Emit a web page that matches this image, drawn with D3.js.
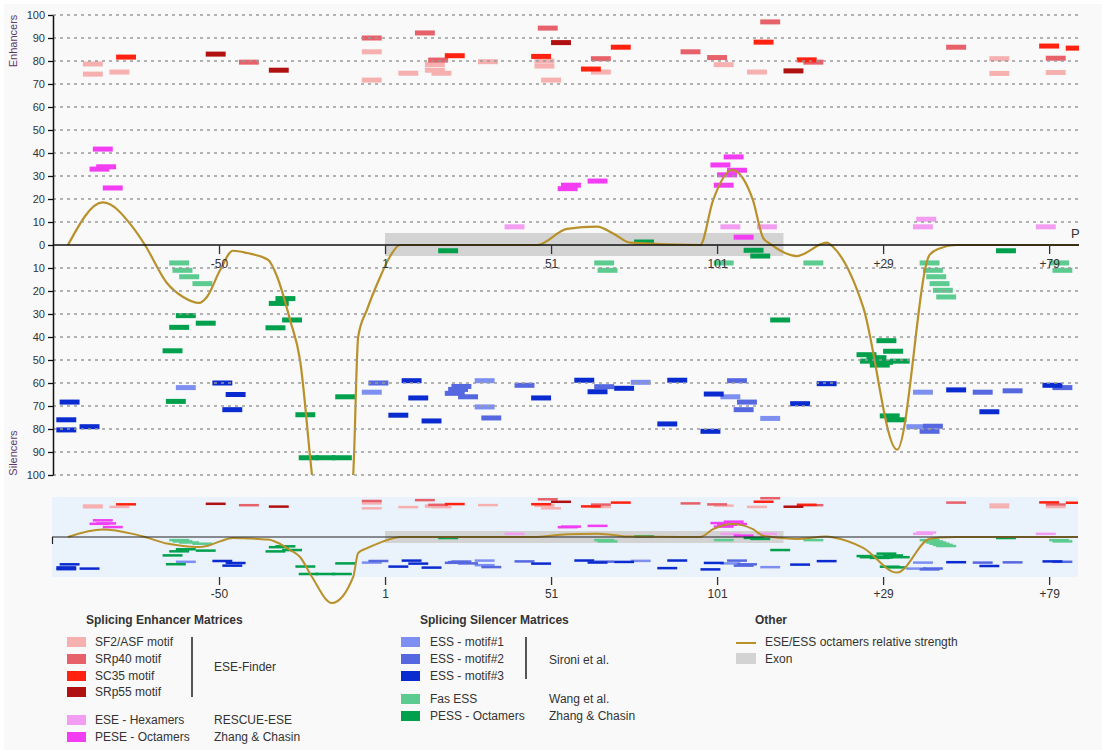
<!DOCTYPE html>
<html>
<head>
<meta charset="utf-8">
<script src="https://cdnjs.cloudflare.com/ajax/libs/d3/7.8.5/d3.min.js"></script>
<style>
body { margin: 0; background: #fff; }
text { font-family: "Liberation Sans", Arial, sans-serif; }
</style>
</head>
<body>
<svg id="chart" width="1102" height="750"></svg>
<script>
// sequence index: -99..0 = intron -100..-1, 1..122 = exon, 123.. = intron +1..
// each motif hit: [start index, score]
var sf2 = [[-90,78.7],[-90,74.3],[-82,75.2],[-6,84],[-6,71.7],[5,74.7],[13,78.5],[13,76],[15,74.7],[29,79.7],
  [46,80],[46,77.8],[48,71.7],[63,75.2],[100,78.4],[110,75.2],[183,81],[183,74.6],[200,75]];
var srp40 = [[-43,79.5],[-6,90],[10,92.2],[14,80.4],[47,94.3],[63,81],[90,84],[98,81.5],[114,97],[127,79.5],[170,86],[200,81.2]];
var sc35 = [[-80,81.7],[19,82.3],[45,82],[60,76.5],[69,86],[112,88.2],[125,80.5],[198,86.5],[206,85.6]];
var srp55 = [[-53,83],[-34,76],[51,88],[121,75.7]];
var eseHex = [[37,7.9],[102,7.9],[113,7.9],[160,7.9],[161,11.2],[197,7.9]];
var peseOct = [[-87,41.7],[-88,33],[-86,34],[-84,24.8],[53,24.5],[54,26],[62,27.8],[103,38.3],[99,34.8],[104,32.5],
  [101,30.5],[100,26],[106,3.4]];

var ess1 = [[-62,62],[-6,64],[28,59],[28,70.4],[75,59.7],[102,66],[114,75.4],[160,64],[158,79]];
var ess2 = [[-4,60],[20,62.8],[21,61.5],[19,64.5],[23,66],[30,75.2],[40,61],[64,61.6],[104,59],[107,68.3],[106,71.6],
  [178,64],[187,63.4],[202,62],[163,78.8],[162,81]];
var ess3 = [[-98,80.4],[-98,76],[-97,68.3],[-91,79],[-51,60],[-47,65],[-48,71.6],[6,59],[8,66.5],[2,74],[12,76.5],
  [45,66.5],[58,58.8],[62,63.8],[70,62.3],[86,58.8],[83,77.8],[97,64.8],[96,81],[123,69],[131,60.3],[170,63],[180,72.5],[199,61]];
var fasEss = [[-64,7.8],[-63,11],[-61,13.8],[-57,16.8],[64,7.8],[65,11],[100,7.8],[127,7.8],[162,7.8],[163,11],
  [164,13.8],[165,16.8],[166,19.7],[167,22.6],[201,7.8],[202,11]];
var pessOct = [[-62,30.7],[-64,35.8],[-56,34],[-66,46],[-65,68],[-32,23.3],[-34,25.4],[-30,32.6],[-35,36],[-26,73.8],
  [-25,92.5],[-20,92.5],[-15,92.5],[-14,66],[17,2.5],[76,-1.3],[109,2.3],[111,4.8],[117,32.6],[149,41.6],[151,46.2],
  [143,47.7],[144,50.5],[146,49],[153,50.5],[147,52.2],[148,51],[150,74.3],[152,76],[185,2.5]];

// relative strength curve (enhancer positive, silencer negative)
var curveT = [-94.5,-84,-75,-71.3,-64.7,-59.8,-55,-52.6,-48.7,-44.8,-40.6,-34.2,-31.5,-27.6,-24.6,-21,-15,-8.6,-7.1,-4.4,-0.5,2.5,5.5,
  46.8,55.8,64.9,69.7,74.8,95.9,99.8,105.5,108.8,111.8,114.9,117,125,134,136,145,155.2,165,168,173,210];
var curveV = [0,18.5,7.8,0,-16.5,-22.6,-25.2,-22.5,-11,-2.5,-3.5,-6.5,-13.8,-32.6,-50,-100,-165,-100,-40,-28,-14,-5,0,
  0,7,8,5,1,0,19.5,32.6,29,19.5,3,0.5,-4.8,1,-1,-27,-89,-4.3,-1.5,0,0];

var exonSpan = [1, 121];
var tickPos = [-49, 1, 51, 101, 151, 201];
var tickLabels = ["-50", "1", "51", "101", "+29", "+79"];
var yTicks = d3.range(-100, 101, 10);
var motifLen = 6;

var enhNames = ["SF2/ASF motif", "SRp40 motif", "SC35 motif", "SRp55 motif", "ESE - Hexamers", "PESE - Octamers"];
var silNames = ["ESS - motif#1", "ESS - motif#2", "ESS - motif#3", "Fas ESS", "PESS - Octamers"];

var colors = {
  sf2: "#f7b0b0", srp40: "#e6616a", sc35: "#ff2211", srp55: "#b01010",
  hex: "#f29cf2", pese: "#f23df2",
  ess1: "#7d8ff0", ess2: "#5568e0", ess3: "#0a2bd0", fas: "#5ccb8f", pess: "#00a04c",
  curve: "#b8912b", exon: "#d3d3d3"
};

var series = [
  {data: sf2, c: colors.sf2, s: 1}, {data: srp40, c: colors.srp40, s: 1}, {data: sc35, c: colors.sc35, s: 1},
  {data: srp55, c: colors.srp55, s: 1}, {data: eseHex, c: colors.hex, s: 1}, {data: peseOct, c: colors.pese, s: 1},
  {data: ess1, c: colors.ess1, s: -1}, {data: ess2, c: colors.ess2, s: -1}, {data: ess3, c: colors.ess3, s: -1},
  {data: fasEss, c: colors.fas, s: -1}, {data: pessOct, c: colors.pess, s: -1}
];

var svg = d3.select("#chart");
svg.append("rect").attr("x", 4).attr("y", 4).attr("width", 1098).attr("height", 746).attr("fill", "#f9f9f9");

var x = d3.scaleLinear().domain([-99, 210]).range([53, 1079]);
var y = d3.scaleLinear().domain([-100, 100]).range([475, 15]);
var yM = d3.scaleLinear().domain([-100, 100]).range([577, 497]);

svg.append("clipPath").attr("id", "plotclip").append("rect")
  .attr("x", 53).attr("y", 15).attr("width", 1026).attr("height", 460);
svg.append("clipPath").attr("id", "miniclip").append("rect")
  .attr("x", 52).attr("y", 490).attr("width", 1026).attr("height", 130);

var main = svg.append("g");
var plot = main.append("g").attr("clip-path", "url(#plotclip)");

// exon
plot.append("rect").attr("x", x(exonSpan[0])).attr("y", 233)
  .attr("width", x(exonSpan[1]) - x(exonSpan[0])).attr("height", 23).attr("fill", colors.exon);

function drawBars(g, yscale, h) {
  series.forEach(function(sr) {
    g.append("g").selectAll("rect").data(sr.data).enter().append("rect")
      .attr("x", function(d) { return x(d[0]); })
      .attr("width", function(d) { return x(d[0] + motifLen) - x(d[0]); })
      .attr("y", function(d) { return yscale(sr.s * d[1]) - h / 2; })
      .attr("height", h)
      .attr("fill", sr.c);
  });
}
drawBars(plot, y, 5);

// gridlines
main.append("g").selectAll("line").data(yTicks.filter(function(d) { return d !== 0; })).enter().append("line")
  .attr("x1", 53).attr("x2", 1079)
  .attr("y1", function(d) { return y(d); }).attr("y2", function(d) { return y(d); })
  .attr("stroke", "#9a9a9a").attr("stroke-width", 1.4).attr("stroke-dasharray", "3,4");

main.append("line").attr("x1", 53).attr("x2", 1079).attr("y1", y(0)).attr("y2", y(0))
  .attr("stroke", "#111").attr("stroke-width", 1.5);

var line = d3.line().x(function(d, i) { return x(curveT[i]); }).y(function(d) { return y(d); }).curve(d3.curveMonotoneX);
plot.append("path").datum(curveV).attr("d", line).attr("fill", "none")
  .attr("stroke", colors.curve).attr("stroke-width", 2.2);

// y axis
var yAxis = d3.axisLeft(y).tickValues(yTicks).tickSize(5).tickSizeOuter(0)
  .tickFormat(function(d) { return Math.abs(d); });
var ya = main.append("g").attr("transform", "translate(53,0)").call(yAxis);
ya.select(".domain").attr("stroke", "#111").attr("stroke-width", 1.5);
ya.selectAll(".tick line").attr("stroke", "#111").attr("stroke-width", 1.3);
ya.selectAll("text").attr("fill", "#333").style("font-size", "11px");

// x axis
var xAxis = d3.axisBottom(x).tickValues(tickPos).tickSize(9).tickPadding(5)
  .tickFormat(function(d, i) { return tickLabels[i]; });
var xa = main.append("g").attr("transform", "translate(0," + y(0) + ")").call(xAxis);
xa.select(".domain").remove();
xa.selectAll(".tick line").attr("stroke", "#333").attr("stroke-width", 1.3);
xa.selectAll("text").attr("fill", "#333").style("font-size", "12px");

main.append("text").attr("transform", "translate(17,41) rotate(-90)").attr("text-anchor", "middle")
  .attr("fill", "#5e3a6e").style("font-size", "11px").text("Enhancers");
main.append("text").attr("transform", "translate(17,453) rotate(-90)").attr("text-anchor", "middle")
  .attr("fill", "#5e3a6e").style("font-size", "11px").text("Silencers");
main.append("text").attr("x", 1071).attr("y", 238).attr("fill", "#333").style("font-size", "13px").text("P");

// overview strip
var mini = svg.append("g");
mini.append("rect").attr("x", 52).attr("y", 497).attr("width", 1026).attr("height", 80).attr("fill", "#eaf2fb");
var miniPlot = mini.append("g").attr("clip-path", "url(#miniclip)");
miniPlot.append("rect").attr("x", x(exonSpan[0])).attr("y", 531)
  .attr("width", x(exonSpan[1]) - x(exonSpan[0])).attr("height", 12).attr("fill", colors.exon);
drawBars(miniPlot, yM, 2.5);
mini.append("line").attr("x1", 52).attr("x2", 1078).attr("y1", yM(0)).attr("y2", yM(0))
  .attr("stroke", "#222").attr("stroke-width", 1.2);
mini.append("line").attr("x1", 52.5).attr("x2", 52.5).attr("y1", yM(0)).attr("y2", yM(0) + 7)
  .attr("stroke", "#222").attr("stroke-width", 1.2);
var lineM = d3.line().x(function(d, i) { return x(curveT[i]); }).y(function(d) { return yM(d); }).curve(d3.curveMonotoneX);
miniPlot.append("path").datum(curveV).attr("d", lineM).attr("fill", "none")
  .attr("stroke", colors.curve).attr("stroke-width", 2);
var xm = mini.append("g").attr("transform", "translate(0,577)").call(
  d3.axisBottom(x).tickValues(tickPos).tickSize(8).tickPadding(4).tickFormat(function(d, i) { return tickLabels[i]; }));
xm.select(".domain").remove();
xm.selectAll(".tick line").attr("stroke", "#333").attr("stroke-width", 1.3);
xm.selectAll("text").attr("fill", "#333").style("font-size", "12px");

// legend
var leg = svg.append("g").style("font-size", "12px").attr("fill", "#333");
function title(tx, ty, s) {
  leg.append("text").attr("x", tx).attr("y", ty).attr("font-weight", "bold").attr("fill", "#333").text(s);
}
function item(sx, tx, ty, col, s) {
  leg.append("rect").attr("x", sx).attr("y", ty - 5).attr("width", 19).attr("height", 10).attr("fill", col);
  leg.append("text").attr("x", tx).attr("y", ty + 4).attr("fill", "#333").text(s);
}
function note(tx, ty, s) {
  leg.append("text").attr("x", tx).attr("y", ty + 4).attr("fill", "#333").text(s);
}
title(86, 624, "Splicing Enhancer Matrices");
var enhCols = [colors.sf2, colors.srp40, colors.sc35, colors.srp55, colors.hex, colors.pese];
var enhY = [642, 659, 676, 692, 720, 737];
enhNames.forEach(function(n, i) { item(67, 95, enhY[i], enhCols[i], n); });
leg.append("line").attr("x1", 192).attr("x2", 192).attr("y1", 637).attr("y2", 697).attr("stroke", "#555").attr("stroke-width", 2);
note(214, 667, "ESE-Finder");
note(214, 720, "RESCUE-ESE");
note(214, 737, "Zhang & Chasin");

title(420, 624, "Splicing Silencer Matrices");
var silCols = [colors.ess1, colors.ess2, colors.ess3, colors.fas, colors.pess];
var silY = [642, 659, 676, 699, 716];
silNames.forEach(function(n, i) { item(401, 430, silY[i], silCols[i], n); });
leg.append("line").attr("x1", 526).attr("x2", 526).attr("y1", 637).attr("y2", 679).attr("stroke", "#555").attr("stroke-width", 2);
note(549, 660, "Sironi et al.");
note(549, 699, "Wang et al.");
note(549, 716, "Zhang & Chasin");

title(755, 624, "Other");
leg.append("line").attr("x1", 736).attr("x2", 756).attr("y1", 643).attr("y2", 643).attr("stroke", colors.curve).attr("stroke-width", 2);
note(765, 642, "ESE/ESS octamers relative strength");
leg.append("rect").attr("x", 736).attr("y", 653).attr("width", 20).attr("height", 11).attr("fill", colors.exon);
note(765, 659, "Exon");
</script>
</body>
</html>
